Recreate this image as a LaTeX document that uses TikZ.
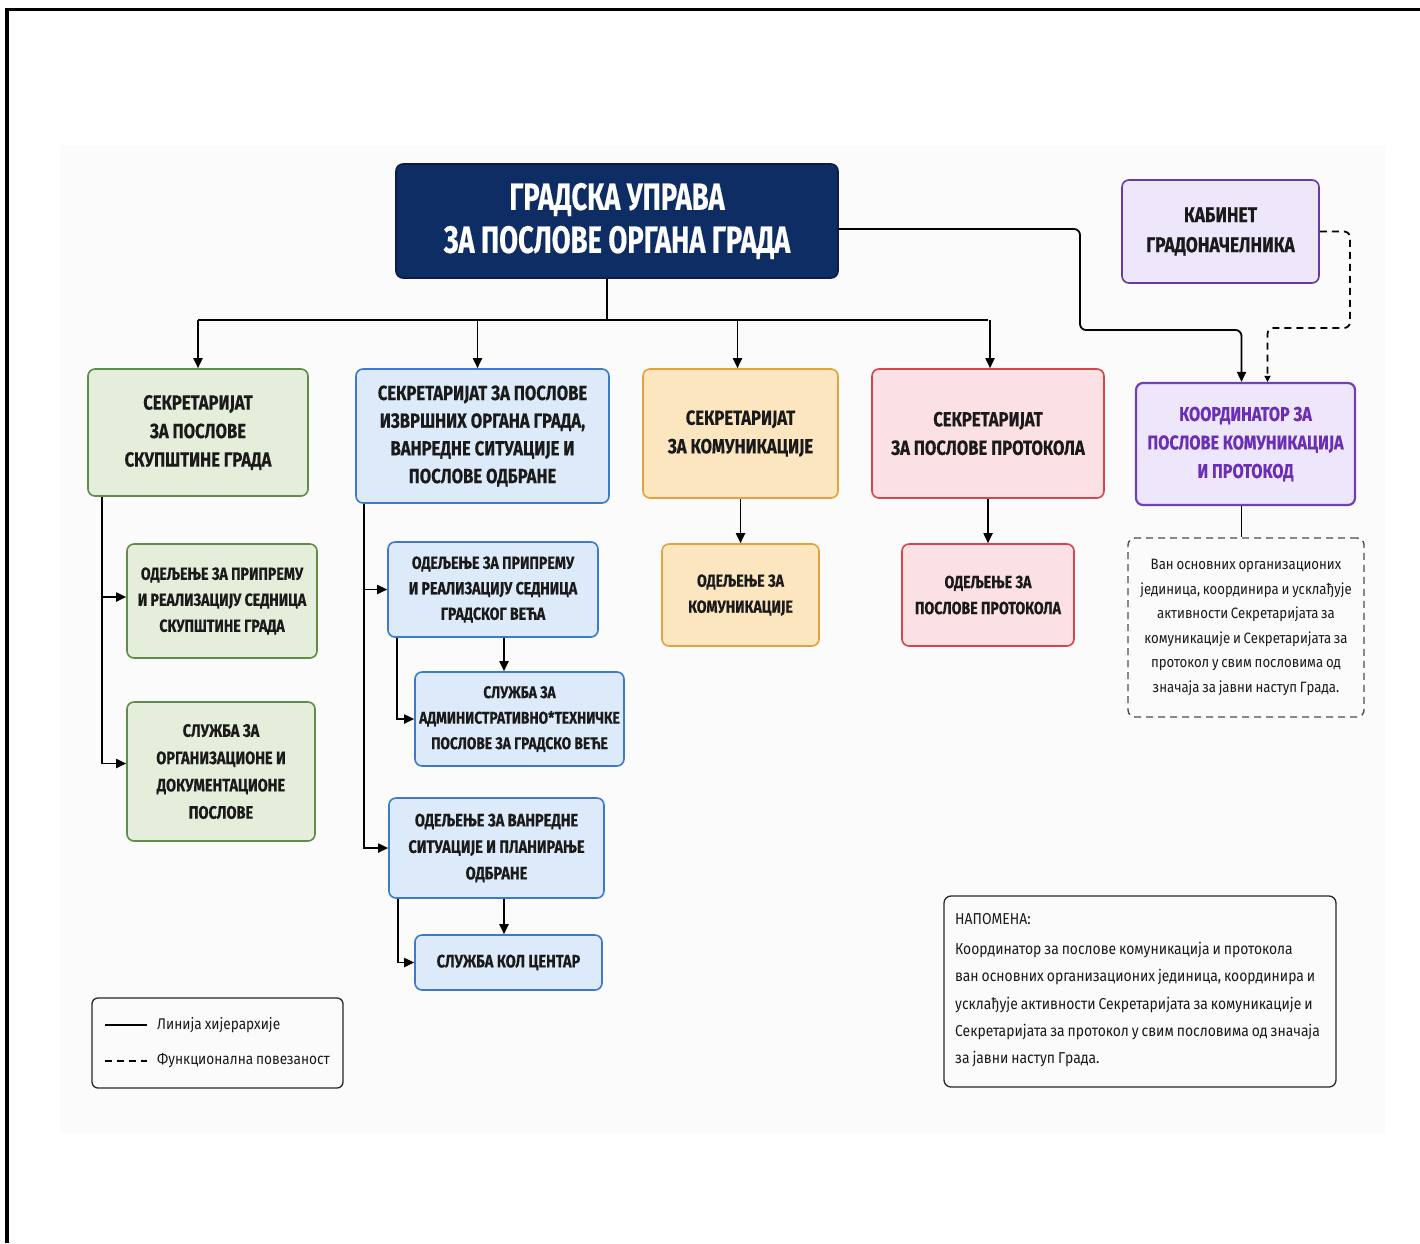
\documentclass[tikz,border=0pt]{standalone}
\usepackage{fontspec}
\setmainfont{Fira Sans}
\newfontfamily\hfont[FakeStretch=0.72, BoldFeatures={FakeBold=0.4}]{Fira Sans}
\newfontfamily\hfontB[FakeStretch=0.81, BoldFeatures={FakeBold=0.4}]{Fira Sans}
\newfontfamily\bfont[FakeStretch=0.88, WordSpace=0.8]{Fira Sans}
\usetikzlibrary{arrows.meta,calc}
\definecolor{navy}{HTML}{0E2D64}
\definecolor{navyb}{HTML}{0A1E45}
\definecolor{txt}{HTML}{1A1A1A}
\definecolor{gfill}{HTML}{E5EEDB}
\definecolor{gline}{HTML}{5E8D48}
\definecolor{bfill}{HTML}{DCEAF9}
\definecolor{bline}{HTML}{3C7BC9}
\definecolor{ofill}{HTML}{FBE6C0}
\definecolor{oline}{HTML}{E2A33E}
\definecolor{rfill}{HTML}{FCE1E4}
\definecolor{rline}{HTML}{D9434C}
\definecolor{pfill}{HTML}{EEE6FA}
\definecolor{pline}{HTML}{7040B8}
\definecolor{ptext}{HTML}{6A2FB5}
\definecolor{bggray}{HTML}{FBFBFB}
\begin{document}
\begin{tikzpicture}[x=1pt,y=-1pt,
  box/.style={draw, line width=1.6pt, rounded corners=7pt, align=center, inner sep=0pt, text=txt},
  hA/.style={font={\hfontB\bfseries\fontsize{20.5}{28.5}\selectfont}},
  hB/.style={font={\hfontB\bfseries\fontsize{17.5}{26}\selectfont}},
  gbox/.style={box, fill=gfill, draw=gline},
  bbox/.style={box, fill=bfill, draw=bline},
  obox/.style={box, fill=ofill, draw=oline},
  rbox/.style={box, fill=rfill, draw=rline},
  pbox/.style={box, fill=pfill, draw=pline},
  arr/.style={line width=1.8pt, -{Triangle[length=10pt,width=9pt]}},
  conn/.style={line width=1.8pt},
  dsh/.style={dash pattern=on 7pt off 5pt},
  body/.style={font={\bfont\fontsize{15}{24.5}\selectfont}, text=txt}
]
\useasboundingbox (0,0) rectangle (1420,1243);
\fill[white] (0,0) rectangle (1420,1243);
\fill[bggray] (60,145) rectangle (1385,1133);
\draw[line width=3.5pt] (7,1243) -- (7,9.5) -- (1420,9.5);

% top
\node[box, fill=navy, draw=navyb, text=white, minimum width=442pt, minimum height=114pt,
  font={\hfont\bfseries\fontsize{38}{43}\selectfont}] (top) at (617,221) {ГРАДСКА УПРАВА\\ЗА ПОСЛОВЕ ОРГАНА ГРАДА};
\node[pbox, draw=pline!90!black, minimum width=197pt, minimum height=103pt,
  font={\hfontB\bfseries\fontsize{21.5}{30}\selectfont}] (kab) at (1220.5,231.5) {КАБИНЕТ\\ГРАДОНАЧЕЛНИКА};
\node[pbox, line width=2.2pt, text=ptext, minimum width=219pt, minimum height=122pt,
  font={\hfontB\bfseries\fontsize{20}{28.5}\selectfont}] (coord) at (1245.5,444) {КООРДИНАТОР ЗА\\ПОСЛОВЕ КОМУНИКАЦИЈА\\И ПРОТОКОД};

% second level
\node[gbox, hA, minimum width=220pt, minimum height=127pt] (sek1) at (198,432.5) {СЕКРЕТАРИЈАТ\\ЗА ПОСЛОВЕ\\СКУПШТИНЕ ГРАДА};
\node[bbox, font={\hfontB\bfseries\fontsize{20.5}{27.7}\selectfont}, minimum width=253pt, minimum height=134pt] (sek2) at (482.5,436) {СЕКРЕТАРИЈАТ ЗА ПОСЛОВЕ\\ИЗВРШНИХ ОРГАНА ГРАДА,\\ВАНРЕДНЕ СИТУАЦИЈЕ И\\ПОСЛОВЕ ОДБРАНЕ};
\node[obox, hA, minimum width=195pt, minimum height=129pt] (sek3) at (740.5,433.5) {СЕКРЕТАРИЈАТ\\ЗА КОМУНИКАЦИЈЕ};
\node[rbox, hA, minimum width=232pt, minimum height=129pt] (sek4) at (988,433.5) {СЕКРЕТАРИЈАТ\\ЗА ПОСЛОВЕ ПРОТОКОЛА};

% children
\node[obox, hB, minimum width=157pt, minimum height=102pt] (o1) at (740.5,595) {ОДЕЉЕЊЕ ЗА\\КОМУНИКАЦИЈЕ};
\node[rbox, hB, minimum width=172pt, minimum height=102pt] (r1) at (988,595) {ОДЕЉЕЊЕ ЗА\\ПОСЛОВЕ ПРОТОКОЛА};
\node[gbox, hB, minimum width=190pt, minimum height=114pt] (g1) at (222,601) {ОДЕЉЕЊЕ ЗА ПРИПРЕМУ\\И РЕАЛИЗАЦИЈУ СЕДНИЦА\\СКУПШТИНЕ ГРАДА};
\node[gbox, font={\hfontB\bfseries\fontsize{18}{27.3}\selectfont}, minimum width=188pt, minimum height=139pt] (g2) at (221,771.5) {СЛУЖБА ЗА\\ОРГАНИЗАЦИОНЕ И\\ДОКУМЕНТАЦИОНЕ\\ПОСЛОВЕ};
\node[bbox, font={\hfontB\bfseries\fontsize{17.5}{25.5}\selectfont}, minimum width=210pt, minimum height=95pt] (b1) at (493,589.5) {ОДЕЉЕЊЕ ЗА ПРИПРЕМУ\\И РЕАЛИЗАЦИЈУ СЕДНИЦА\\ГРАДСКОГ ВЕЋА};
\node[bbox, font={\hfontB\bfseries\fontsize{17}{25.5}\selectfont}, minimum width=209pt, minimum height=94pt] (b2) at (519.5,719) {СЛУЖБА ЗА\\АДМИНИСТРАТИВНО*ТЕХНИЧКЕ\\ПОСЛОВЕ ЗА ГРАДСКО ВЕЋЕ};
\node[bbox, font={\hfontB\bfseries\fontsize{18}{26.5}\selectfont}, minimum width=215pt, minimum height=100pt] (b3) at (496.5,848) {ОДЕЉЕЊЕ ЗА ВАНРЕДНЕ\\СИТУАЦИЈЕ И ПЛАНИРАЊЕ\\ОДБРАНЕ};
\node[bbox, font={\hfontB\bfseries\fontsize{18}{26.5}\selectfont}, minimum width=187pt, minimum height=55pt] (b4) at (508.5,962.5) {СЛУЖБА КОЛ ЦЕНТАР};

% dashed description
\node[draw=black!70, line width=1.4pt, dsh, rounded corners=7pt, align=center, body,
  minimum width=236pt, minimum height=179pt, inner sep=0pt] (cnote) at (1246,627.5)
  {Ван основних организационих\\јединица, координира и усклађује\\активности Секретаријата за\\комуникације и Секретаријата за\\протокол у свим пословима од\\значаја за јавни наступ Града.};

% note box
\node[draw=black!85, line width=1.3pt, rounded corners=7pt, minimum width=392pt,
  minimum height=191pt, inner sep=0pt] (note) at (1140,991.5) {};
\node[anchor=west, align=left, inner sep=0pt, text=txt,
  font={\bfont\fontsize{15.8}{27.3}\selectfont}] (notet) at (955,990.5)
  {НАПОМЕНА:\\[2.5pt]Координатор за послове комуникација и протокола\\ван основних организационих јединица, координира и\\усклађује активности Секретаријата за комуникације и\\Секретаријата за протокол у свим пословима од значаја\\за јавни наступ Града.};

% legend
\node[draw=black!85, line width=1.3pt, rounded corners=6pt, minimum width=251pt, minimum height=90pt, inner sep=0pt] (leg) at (217.5,1043) {};
\coordinate (l1a) at (105,1025); \coordinate (l1b) at (147,1025);
\coordinate (l2a) at (105,1061); \coordinate (l2b) at (147,1061);
\draw[conn] (l1a) -- (l1b);
\draw[conn, dsh] (l2a) -- (l2b);
\node[anchor=west, body, font={\bfont\fontsize{15.5}{20}\selectfont}, inner sep=0pt] (lt1) at (157,1025) {Линија хијерархије};
\node[anchor=west, body, font={\bfont\fontsize{15.5}{20}\selectfont}, inner sep=0pt] (lt2) at (157,1061) {Функционална повезаност};

% connectors
\coordinate (bus) at (607,320);
\draw[conn] (bus |- top.south) -- (bus);
\draw[conn] (sek1.north |- bus) -- (sek4.north |- bus);
\draw[arr] (sek1.north |- bus) -- (sek1.north);
\draw[arr] ([xshift=-5pt]sek2.north |- bus) -- ([xshift=-5pt]sek2.north);
\draw[arr] ([xshift=-3pt]sek3.north |- bus) -- ([xshift=-3pt]sek3.north);
\draw[arr] ([xshift=2pt]sek4.north |- bus) -- ([xshift=2pt]sek4.north);

\coordinate (m1) at (1080,330);
\draw[arr, rounded corners=6pt] ([yshift=-8pt]top.east) -| (m1) -| ([xshift=-4pt]coord.north);
\coordinate (m2) at (1350,328);
\draw[line width=1.8pt, dsh, rounded corners=6pt, -{Triangle[length=6pt,width=6pt]}] (kab.east) -| (m2) -| ([xshift=22pt]coord.north);
\draw[conn] ([xshift=-4pt]coord.south) -- ([xshift=-4pt]coord.south |- cnote.north);

\draw[arr] (sek3.south) -- (o1.north);
\draw[arr] (sek4.south) -- (r1.north);

\coordinate (g1a) at ([yshift=4pt]g1.west);
\coordinate (g2a) at ([yshift=8pt]g2.west);
\draw[arr] ([xshift=15pt]sek1.south west) |- (g2a);
\draw[arr] ([xshift=15pt]sek1.south west |- g1a) -- (g1a);

\draw[arr] ([xshift=9pt]sek2.south west) |- (b3.west);
\draw[arr] ([xshift=9pt]sek2.south west |- b1.west) -- (b1.west);
\draw[arr] ([xshift=10pt]b1.south west) |- (b2.west);
\draw[arr] ([xshift=11pt]b1.south) -- ([xshift=11pt]b1.south |- b2.north);
\draw[arr] ([xshift=10pt]b3.south west) |- (b4.west);
\draw[arr] ([xshift=7.5pt]b3.south) -- ([xshift=7.5pt]b3.south |- b4.north);
\end{tikzpicture}
\end{document}
